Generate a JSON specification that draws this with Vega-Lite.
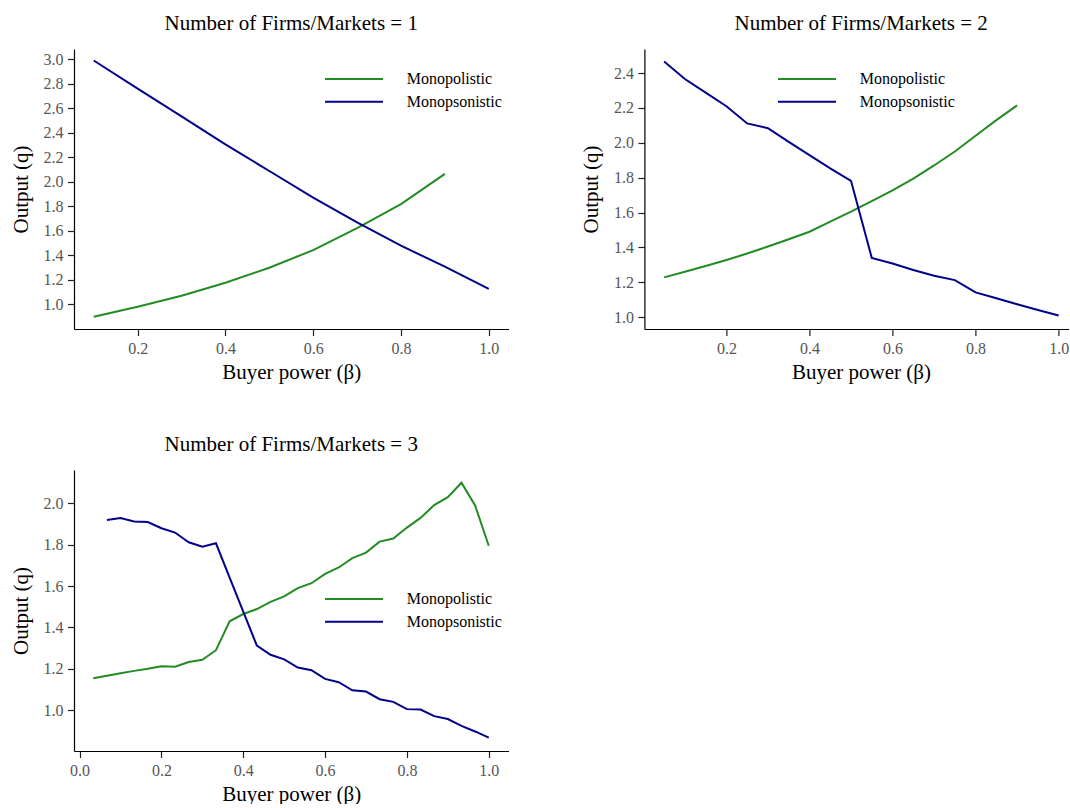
{
  "$schema": "https://vega.github.io/schema/vega-lite/v6.json",
  "padding": {"left": 10, "top": 12, "right": 0, "bottom": 0},
  "background": "white",
  "datasets": {
    "d": [
      {"panel": 1, "beta": 0.1, "q": 0.896, "type": "Monopolistic"},
      {"panel": 1, "beta": 0.2, "q": 0.978, "type": "Monopolistic"},
      {"panel": 1, "beta": 0.3, "q": 1.068, "type": "Monopolistic"},
      {"panel": 1, "beta": 0.4, "q": 1.174, "type": "Monopolistic"},
      {"panel": 1, "beta": 0.5, "q": 1.297, "type": "Monopolistic"},
      {"panel": 1, "beta": 0.6, "q": 1.441, "type": "Monopolistic"},
      {"panel": 1, "beta": 0.7, "q": 1.621, "type": "Monopolistic"},
      {"panel": 1, "beta": 0.8, "q": 1.817, "type": "Monopolistic"},
      {"panel": 1, "beta": 0.9, "q": 2.063, "type": "Monopolistic"},
      {"panel": 1, "beta": 0.1, "q": 2.99, "type": "Monopsonistic"},
      {"panel": 1, "beta": 0.2, "q": 2.76, "type": "Monopsonistic"},
      {"panel": 1, "beta": 0.3, "q": 2.534, "type": "Monopsonistic"},
      {"panel": 1, "beta": 0.4, "q": 2.305, "type": "Monopsonistic"},
      {"panel": 1, "beta": 0.5, "q": 2.087, "type": "Monopsonistic"},
      {"panel": 1, "beta": 0.6, "q": 1.869, "type": "Monopsonistic"},
      {"panel": 1, "beta": 0.7, "q": 1.668, "type": "Monopsonistic"},
      {"panel": 1, "beta": 0.8, "q": 1.477, "type": "Monopsonistic"},
      {"panel": 1, "beta": 0.9, "q": 1.305, "type": "Monopsonistic"},
      {"panel": 1, "beta": 1.0, "q": 1.123, "type": "Monopsonistic"},

      {"panel": 2, "beta": 0.05, "q": 1.228, "type": "Monopolistic"},
      {"panel": 2, "beta": 0.1, "q": 1.26, "type": "Monopolistic"},
      {"panel": 2, "beta": 0.15, "q": 1.293, "type": "Monopolistic"},
      {"panel": 2, "beta": 0.2, "q": 1.328, "type": "Monopolistic"},
      {"panel": 2, "beta": 0.25, "q": 1.365, "type": "Monopolistic"},
      {"panel": 2, "beta": 0.3, "q": 1.405, "type": "Monopolistic"},
      {"panel": 2, "beta": 0.35, "q": 1.447, "type": "Monopolistic"},
      {"panel": 2, "beta": 0.4, "q": 1.49, "type": "Monopolistic"},
      {"panel": 2, "beta": 0.45, "q": 1.548, "type": "Monopolistic"},
      {"panel": 2, "beta": 0.5, "q": 1.605, "type": "Monopolistic"},
      {"panel": 2, "beta": 0.55, "q": 1.665, "type": "Monopolistic"},
      {"panel": 2, "beta": 0.6, "q": 1.727, "type": "Monopolistic"},
      {"panel": 2, "beta": 0.65, "q": 1.795, "type": "Monopolistic"},
      {"panel": 2, "beta": 0.7, "q": 1.87, "type": "Monopolistic"},
      {"panel": 2, "beta": 0.75, "q": 1.95, "type": "Monopolistic"},
      {"panel": 2, "beta": 0.8, "q": 2.04, "type": "Monopolistic"},
      {"panel": 2, "beta": 0.85, "q": 2.13, "type": "Monopolistic"},
      {"panel": 2, "beta": 0.9, "q": 2.215, "type": "Monopolistic"},
      {"panel": 2, "beta": 0.05, "q": 2.466, "type": "Monopsonistic"},
      {"panel": 2, "beta": 0.1, "q": 2.366, "type": "Monopsonistic"},
      {"panel": 2, "beta": 0.15, "q": 2.288, "type": "Monopsonistic"},
      {"panel": 2, "beta": 0.2, "q": 2.21, "type": "Monopsonistic"},
      {"panel": 2, "beta": 0.25, "q": 2.111, "type": "Monopsonistic"},
      {"panel": 2, "beta": 0.3, "q": 2.084, "type": "Monopsonistic"},
      {"panel": 2, "beta": 0.35, "q": 2.005, "type": "Monopsonistic"},
      {"panel": 2, "beta": 0.4, "q": 1.929, "type": "Monopsonistic"},
      {"panel": 2, "beta": 0.45, "q": 1.853, "type": "Monopsonistic"},
      {"panel": 2, "beta": 0.5, "q": 1.782, "type": "Monopsonistic"},
      {"panel": 2, "beta": 0.55, "q": 1.34, "type": "Monopsonistic"},
      {"panel": 2, "beta": 0.6, "q": 1.308, "type": "Monopsonistic"},
      {"panel": 2, "beta": 0.65, "q": 1.27, "type": "Monopsonistic"},
      {"panel": 2, "beta": 0.7, "q": 1.237, "type": "Monopsonistic"},
      {"panel": 2, "beta": 0.75, "q": 1.2125, "type": "Monopsonistic"},
      {"panel": 2, "beta": 0.8, "q": 1.142, "type": "Monopsonistic"},
      {"panel": 2, "beta": 0.85, "q": 1.108, "type": "Monopsonistic"},
      {"panel": 2, "beta": 0.9, "q": 1.074, "type": "Monopsonistic"},
      {"panel": 2, "beta": 0.95, "q": 1.041, "type": "Monopsonistic"},
      {"panel": 2, "beta": 1.0, "q": 1.009, "type": "Monopsonistic"},

      {"panel": 3, "beta": 0.0333, "q": 1.154, "type": "Monopolistic"},
      {"panel": 3, "beta": 0.0667, "q": 1.166, "type": "Monopolistic"},
      {"panel": 3, "beta": 0.1, "q": 1.178, "type": "Monopolistic"},
      {"panel": 3, "beta": 0.1333, "q": 1.19, "type": "Monopolistic"},
      {"panel": 3, "beta": 0.1667, "q": 1.2, "type": "Monopolistic"},
      {"panel": 3, "beta": 0.2, "q": 1.212, "type": "Monopolistic"},
      {"panel": 3, "beta": 0.2333, "q": 1.21, "type": "Monopolistic"},
      {"panel": 3, "beta": 0.2667, "q": 1.233, "type": "Monopolistic"},
      {"panel": 3, "beta": 0.3, "q": 1.244, "type": "Monopolistic"},
      {"panel": 3, "beta": 0.3333, "q": 1.29, "type": "Monopolistic"},
      {"panel": 3, "beta": 0.3667, "q": 1.43, "type": "Monopolistic"},
      {"panel": 3, "beta": 0.4, "q": 1.465, "type": "Monopolistic"},
      {"panel": 3, "beta": 0.4333, "q": 1.489, "type": "Monopolistic"},
      {"panel": 3, "beta": 0.4667, "q": 1.524, "type": "Monopolistic"},
      {"panel": 3, "beta": 0.5, "q": 1.55, "type": "Monopolistic"},
      {"panel": 3, "beta": 0.5333, "q": 1.59, "type": "Monopolistic"},
      {"panel": 3, "beta": 0.5667, "q": 1.614, "type": "Monopolistic"},
      {"panel": 3, "beta": 0.6, "q": 1.659, "type": "Monopolistic"},
      {"panel": 3, "beta": 0.6333, "q": 1.69, "type": "Monopolistic"},
      {"panel": 3, "beta": 0.6667, "q": 1.735, "type": "Monopolistic"},
      {"panel": 3, "beta": 0.7, "q": 1.762, "type": "Monopolistic"},
      {"panel": 3, "beta": 0.7333, "q": 1.815, "type": "Monopolistic"},
      {"panel": 3, "beta": 0.7667, "q": 1.83, "type": "Monopolistic"},
      {"panel": 3, "beta": 0.8, "q": 1.883, "type": "Monopolistic"},
      {"panel": 3, "beta": 0.8333, "q": 1.93, "type": "Monopolistic"},
      {"panel": 3, "beta": 0.8667, "q": 1.992, "type": "Monopolistic"},
      {"panel": 3, "beta": 0.9, "q": 2.03, "type": "Monopolistic"},
      {"panel": 3, "beta": 0.9333, "q": 2.1, "type": "Monopolistic"},
      {"panel": 3, "beta": 0.9667, "q": 1.99, "type": "Monopolistic"},
      {"panel": 3, "beta": 1.0, "q": 1.795, "type": "Monopolistic"},
      {"panel": 3, "beta": 0.0667, "q": 1.92, "type": "Monopsonistic"},
      {"panel": 3, "beta": 0.1, "q": 1.929, "type": "Monopsonistic"},
      {"panel": 3, "beta": 0.1333, "q": 1.912, "type": "Monopsonistic"},
      {"panel": 3, "beta": 0.1667, "q": 1.91, "type": "Monopsonistic"},
      {"panel": 3, "beta": 0.2, "q": 1.88, "type": "Monopsonistic"},
      {"panel": 3, "beta": 0.2333, "q": 1.859, "type": "Monopsonistic"},
      {"panel": 3, "beta": 0.2667, "q": 1.812, "type": "Monopsonistic"},
      {"panel": 3, "beta": 0.3, "q": 1.79, "type": "Monopsonistic"},
      {"panel": 3, "beta": 0.3333, "q": 1.807, "type": "Monopsonistic"},
      {"panel": 3, "beta": 0.3667, "q": 1.641, "type": "Monopsonistic"},
      {"panel": 3, "beta": 0.4, "q": 1.477, "type": "Monopsonistic"},
      {"panel": 3, "beta": 0.4333, "q": 1.312, "type": "Monopsonistic"},
      {"panel": 3, "beta": 0.4667, "q": 1.268, "type": "Monopsonistic"},
      {"panel": 3, "beta": 0.5, "q": 1.246, "type": "Monopsonistic"},
      {"panel": 3, "beta": 0.5333, "q": 1.206, "type": "Monopsonistic"},
      {"panel": 3, "beta": 0.5667, "q": 1.193, "type": "Monopsonistic"},
      {"panel": 3, "beta": 0.6, "q": 1.151, "type": "Monopsonistic"},
      {"panel": 3, "beta": 0.6333, "q": 1.135, "type": "Monopsonistic"},
      {"panel": 3, "beta": 0.6667, "q": 1.096, "type": "Monopsonistic"},
      {"panel": 3, "beta": 0.7, "q": 1.09, "type": "Monopsonistic"},
      {"panel": 3, "beta": 0.7333, "q": 1.053, "type": "Monopsonistic"},
      {"panel": 3, "beta": 0.7667, "q": 1.04, "type": "Monopsonistic"},
      {"panel": 3, "beta": 0.8, "q": 1.005, "type": "Monopsonistic"},
      {"panel": 3, "beta": 0.8333, "q": 1.003, "type": "Monopsonistic"},
      {"panel": 3, "beta": 0.8667, "q": 0.971, "type": "Monopsonistic"},
      {"panel": 3, "beta": 0.9, "q": 0.957, "type": "Monopsonistic"},
      {"panel": 3, "beta": 0.9333, "q": 0.924, "type": "Monopsonistic"},
      {"panel": 3, "beta": 0.9667, "q": 0.897, "type": "Monopsonistic"},
      {"panel": 3, "beta": 1.0, "q": 0.867, "type": "Monopsonistic"}
    ]
  },
  "columns": 2,
  "spacing": {"row": 141, "column": 135.4},
  "bounds": "flush",
  "resolve": {"legend": {"color": "independent"}, "scale": {"x": "independent", "y": "independent"}},
  "concat": [
    {
      "width": 434.5,
      "height": 280,
      "title": {"text": "Number of Firms/Markets = 1"},
      "data": {"name": "d"},
      "transform": [{"filter": "datum.panel == 1"}],
      "mark": {"type": "line", "strokeWidth": 2},
      "encoding": {
        "x": {"field": "beta", "type": "quantitative", "scale": {"domain": [0.055, 1.045], "nice": false, "zero": false}, "axis": {"values": [0.2, 0.4, 0.6, 0.8, 1.0], "format": ".1f", "title": "Buyer power (β)"}},
        "y": {"field": "q", "type": "quantitative", "scale": {"domain": [0.796, 3.084], "nice": false, "zero": false}, "axis": {"values": [1.0, 1.2, 1.4, 1.6, 1.8, 2.0, 2.2, 2.4, 2.6, 2.8, 3.0], "format": ".1f", "title": "Output (q)"}},
        "color": {"field": "type", "type": "nominal", "scale": {"domain": ["Monopolistic", "Monopsonistic"], "range": ["#228B22", "#00008B"]}, "legend": {"title": null, "orient": "none", "legendX": 250, "legendY": 22}}
      }
    },
    {
      "width": 424.3,
      "height": 280,
      "title": {"text": "Number of Firms/Markets = 2", "dx": 4.6},
      "data": {"name": "d"},
      "transform": [{"filter": "datum.panel == 2"}],
      "mark": {"type": "line", "strokeWidth": 2},
      "encoding": {
        "x": {"field": "beta", "type": "quantitative", "scale": {"domain": [0.0025, 1.0242], "nice": false, "zero": false}, "axis": {"values": [0.2, 0.4, 0.6, 0.8, 1.0], "format": ".1f", "title": "Buyer power (β)", "titleX": 216.6}},
        "y": {"field": "q", "type": "quantitative", "scale": {"domain": [0.932, 2.538], "nice": false, "zero": false}, "axis": {"values": [1.0, 1.2, 1.4, 1.6, 1.8, 2.0, 2.2, 2.4], "format": ".1f", "title": "Output (q)"}},
        "color": {"field": "type", "type": "nominal", "scale": {"domain": ["Monopolistic", "Monopsonistic"], "range": ["#228B22", "#00008B"]}, "legend": {"title": null, "orient": "none", "legendX": 132.6, "legendY": 22}}
      }
    },
    {
      "width": 434.5,
      "height": 281,
      "title": {"text": "Number of Firms/Markets = 3"},
      "data": {"name": "d"},
      "transform": [{"filter": "datum.panel == 3"}],
      "mark": {"type": "line", "strokeWidth": 2},
      "encoding": {
        "x": {"field": "beta", "type": "quantitative", "scale": {"domain": [-0.0137, 1.0483], "nice": false, "zero": false}, "axis": {"values": [0.0, 0.2, 0.4, 0.6, 0.8, 1.0], "format": ".1f", "title": "Buyer power (β)"}},
        "y": {"field": "q", "type": "quantitative", "scale": {"domain": [0.8025, 2.1615], "nice": false, "zero": false}, "axis": {"values": [1.0, 1.2, 1.4, 1.6, 1.8, 2.0], "format": ".1f", "title": "Output (q)"}},
        "color": {"field": "type", "type": "nominal", "scale": {"domain": ["Monopolistic", "Monopsonistic"], "range": ["#228B22", "#00008B"]}, "legend": {"title": null, "orient": "none", "legendX": 250, "legendY": 121}}
      }
    }
  ],
  "config": {
    "font": "Liberation Serif",
    "view": {"stroke": null},
    "axis": {
      "grid": false,
      "domainColor": "#000000",
      "domainWidth": 1.2,
      "tickColor": "#222222",
      "tickSize": 6.5,
      "tickWidth": 1.2,
      "labelFont": "Liberation Serif",
      "labelFontSize": 16,
      "labelColor": "#555555",
      "labelPadding": 4.5,
      "titleFont": "Liberation Serif",
      "titleFontSize": 21,
      "titleFontWeight": "normal",
      "titleColor": "#000000"
    },
    "axisX": {"titlePadding": 5},
    "axisY": {"titlePadding": 12},
    "title": {"font": "Liberation Serif", "fontSize": 21, "fontWeight": "normal", "color": "#000000", "anchor": "middle", "baseline": "alphabetic", "offset": 15.5},
    "legend": {
      "symbolType": "stroke",
      "symbolSize": 3364,
      "symbolStrokeWidth": 2,
      "labelFont": "Liberation Serif",
      "labelFontSize": 16,
      "labelColor": "#000000",
      "labelOffset": 22.7,
      "clipHeight": 16,
      "rowPadding": 6.7,
      "padding": 0
    }
  }
}
